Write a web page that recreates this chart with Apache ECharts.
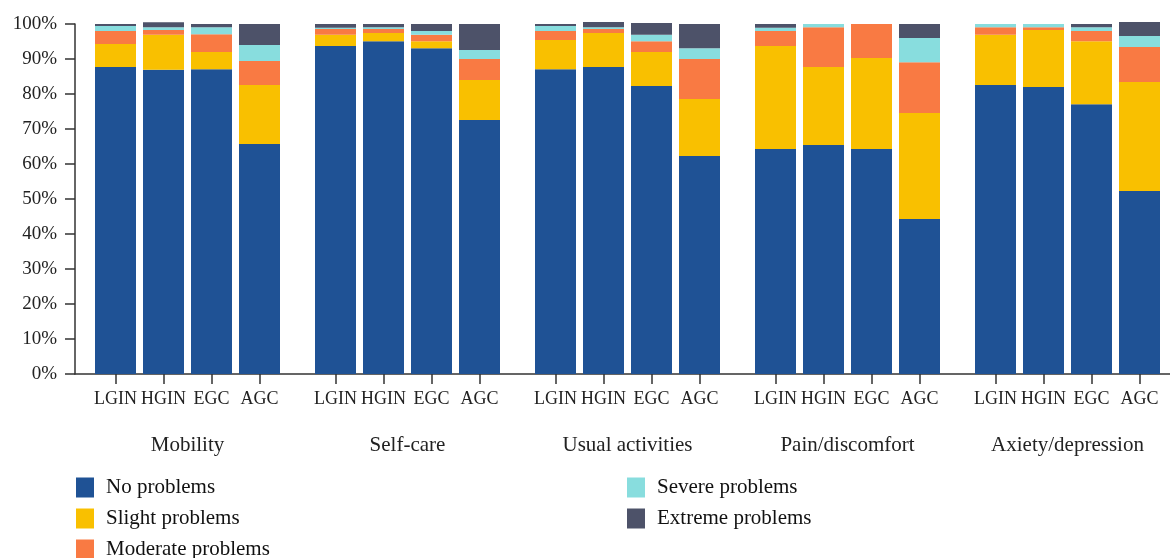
<!DOCTYPE html>
<html>
<head>
<meta charset="utf-8">
<script src="https://cdn.jsdelivr.net/npm/echarts@6/dist/echarts.min.js"></script>
<style>html,body{margin:0;padding:0;background:#fff;}#c{width:1170px;height:558px;}</style>
</head>
<body>
<div id="c"></div>
<script>
const groups = ['Mobility', 'Self-care', 'Usual activities', 'Pain/discomfort', 'Axiety/depression'];
const stages = ['LGIN', 'HGIN', 'EGC', 'AGC'];
const levels = ['No problems', 'Slight problems', 'Moderate problems', 'Severe problems', 'Extreme problems'];
const yTicks = [0, 10, 20, 30, 40, 50, 60, 70, 80, 90, 100];
// values per group (4 stages each), percentages
const noProblems =       [87.7, 86.9, 87.1, 65.7,  93.7, 95.1, 93.1, 72.6,  87.1, 87.7, 82.3, 62.3,  64.3, 65.4, 64.3, 44.3,  82.6, 82.0, 77.1, 52.3];
const slightProblems =   [6.6, 10.0, 4.9, 16.9,    3.2, 2.3, 2.0, 11.4,     8.3, 9.7, 9.7, 16.3,     29.4, 22.3, 26.0, 30.3,  14.3, 16.3, 18.0, 31.1];
const moderateProblems = [3.7, 1.4, 5.1, 6.8,      1.7, 1.2, 1.8, 6.0,      2.6, 1.2, 3.1, 11.4,     4.3, 11.4, 9.7, 14.5,    2.2, 0.8, 2.9, 10.0];
const severeProblems =   [1.4, 0.8, 2.0, 4.6,      0.3, 0.5, 1.1, 2.6,      1.4, 0.5, 1.8, 3.1,      0.9, 0.9, 0, 6.9,        0.9, 0.9, 1.1, 3.2];
const extremeProblems =  [0.6, 1.4, 0.9, 6.0,      1.1, 0.9, 2.0, 7.4,      0.6, 1.5, 3.4, 6.9,      1.1, 0, 0, 4.0,          0, 0, 0.9, 4.0];

const seriesValues = [noProblems, slightProblems, moderateProblems, severeProblems, extremeProblems];
const colors = ['#1F5295', '#F9C000', '#F97A43', '#88DDDE', '#4D5269'];
const FONT = '"Liberation Serif", "DejaVu Serif", serif';
const axisColor = '#333';

const grids = [{left: 75, right: 0, top: 24, bottom: 184}];
const xAxes = [{gridIndex: 0, type: 'value', min: 0, max: 1, axisLine: {show: true, lineStyle: {color: axisColor, width: 1.5}}, axisTick: {show: false}, axisLabel: {show: false}, splitLine: {show: false}}];
const yAxes = [{gridIndex: 0, type: 'value', min: 0, max: 100, interval: 10,
  axisLine: {show: true, lineStyle: {color: axisColor, width: 1.5}},
  axisTick: {show: true, length: 10, lineStyle: {color: axisColor, width: 1.5}},
  axisLabel: {margin: 18, formatter: v => yTicks.includes(v) ? v + '%' : '', fontFamily: FONT, fontSize: 19, color: '#222'},
  splitLine: {show: false}}];
const series = [];
groups.forEach((g, gi) => {
  const idx = gi + 1;
  grids.push({left: 91.5 + 220 * gi, width: 192, top: 24, bottom: 184});
  xAxes.push({gridIndex: idx, type: 'category', data: stages, name: g, nameLocation: 'middle', nameGap: 61,
    nameTextStyle: {fontFamily: FONT, fontSize: 21, color: '#222'},
    axisLine: {show: false}, axisTick: {show: true, alignWithLabel: true, length: 10, lineStyle: {color: axisColor, width: 1.5}},
    axisLabel: {margin: 16, fontFamily: FONT, fontSize: 18, color: '#222', interval: 0}});
  yAxes.push({gridIndex: idx, type: 'value', min: 0, max: 100, show: false});
  levels.forEach((lv, li) => {
    series.push({name: lv, type: 'bar', stack: 'g' + gi, xAxisIndex: idx, yAxisIndex: idx,
      barWidth: 41, clip: false, itemStyle: {color: colors[li]},
      data: seriesValues[li].slice(gi * 4, gi * 4 + 4)});
  });
});

const legendPos = [[76, 487], [76, 518], [76, 549], [627, 487], [627, 518]];
const legends = levels.map((lv, i) => ({
  data: [lv], left: legendPos[i][0], top: legendPos[i][1] - 10, padding: 0,
  itemWidth: 18, itemHeight: 20, itemGap: 12, icon: 'rect', selectedMode: false,
  textStyle: {fontFamily: FONT, fontSize: 21, color: '#111', padding: [0, 0, 0, 7]}
}));

const chart = echarts.init(document.getElementById('c'), null, {renderer: 'canvas'});
chart.setOption({
  animation: false,
  color: colors,
  grid: grids,
  xAxis: xAxes,
  yAxis: yAxes,
  legend: legends,
  series: series
});
</script>
</body>
</html>
